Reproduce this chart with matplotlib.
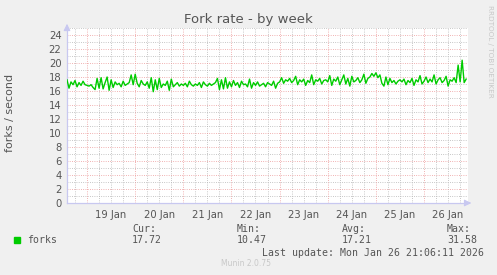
import matplotlib
matplotlib.use("Agg")
import matplotlib.pyplot as plt
import numpy as np

# ---- data (forks / second, hourly samples starting Jan 18 ~14:00) ----
start_day = 18.585
step_days = 1.0 / 24.0
seg_jan18 = [17.6, 16.4, 17.3, 16.9, 17.5, 16.6, 17.2, 16.8, 17.4, 16.9]
seg_jan19 = [16.8, 16.7, 16.9, 16.5, 16.2, 17.8, 16.4, 17.9, 16.3, 17.2, 18.0, 16.1,
             17.6, 16.5, 17.3, 16.9, 17.1, 16.6, 17.4, 16.8, 17.0, 17.2, 18.3, 16.9]
seg_jan20 = [18.4, 17.1, 16.6, 17.5, 17.0, 16.8, 17.3, 16.4, 17.9, 15.9, 17.6, 16.2,
             17.8, 16.5, 17.0, 16.8, 17.4, 16.1, 17.7, 16.6, 16.9, 17.2, 16.7, 17.0]
seg_jan21 = [16.8, 17.1, 16.6, 17.4, 16.9, 16.7, 17.0, 16.8, 17.2, 16.5, 17.3, 16.9,
             16.7, 17.1, 16.8, 17.0, 17.2, 17.8, 16.2, 17.6, 16.3, 17.9, 16.4, 17.3]
seg_jan22 = [16.6, 17.5, 16.8, 17.2, 16.5, 17.4, 16.9, 17.0, 16.6, 17.7, 16.4, 17.2,
             16.8, 17.3, 16.7, 16.9, 17.1, 16.6, 17.2, 17.0, 16.8, 17.4, 16.4, 17.1]
seg_jan23 = [17.3, 17.9, 17.1, 17.6, 17.4, 17.8, 17.2, 17.5, 18.1, 16.9, 17.6, 17.3,
             17.7, 16.8, 17.5, 17.2, 18.3, 16.9, 17.6, 17.4, 17.8, 17.0, 17.5, 17.6]
seg_jan24 = [17.3, 18.2, 16.8, 17.7, 17.4, 18.0, 16.9, 17.6, 18.3, 17.0, 17.8, 16.7,
             18.1, 17.3, 17.5, 17.9, 17.2, 17.6, 18.4, 17.1, 17.8, 18.0, 18.5, 18.1]
seg_jan25 = [18.6, 17.9, 18.3, 17.1, 16.7, 18.0, 16.9, 17.8, 17.2, 17.5, 17.0, 17.4,
             17.6, 17.3, 17.7, 16.9, 17.5, 17.2, 17.8, 16.8, 17.6, 17.3, 18.2, 17.0]
seg_jan26 = [17.4, 18.0, 17.2, 17.7, 17.3, 18.3, 17.0, 17.6, 17.9, 17.2, 17.5, 18.1,
             16.7, 17.6, 17.4, 17.9, 17.2, 19.7, 17.3, 20.4, 17.2, 17.7]

forks = np.array(seg_jan18 + seg_jan19 + seg_jan20 + seg_jan21 + seg_jan22 +
                 seg_jan23 + seg_jan24 + seg_jan25 + seg_jan26)
days = start_day + step_days * np.arange(len(forks))

day_labels = ["19 Jan", "20 Jan", "21 Jan", "22 Jan", "23 Jan", "24 Jan", "25 Jan", "26 Jan"]
day_numbers = [19, 20, 21, 22, 23, 24, 25, 26]
y_ticks = [0, 2, 4, 6, 8, 10, 12, 14, 16, 18, 20, 22, 24]

legend_name = "forks"
stat_names = ["Cur:", "Min:", "Avg:", "Max:"]
stat_values = ["17.72", "10.47", "17.21", "31.58"]
last_update = "Last update: Mon Jan 26 21:06:11 2026"

# ---- figure ----
W, H = 497, 275
fig = plt.figure(figsize=(W / 100, H / 100), dpi=100)
fig.patch.set_facecolor("#F0F0F0")

ax = fig.add_axes([67 / W, 1 - 203 / H, (468 - 67) / W, (203 - 28) / H])
ax.set_facecolor("white")
ax.set_xlim(18.585, 26.915)
ax.set_ylim(0, 25)

txt = "#555555"
gray_grid = dict(color="#B4B4B4", linewidth=0.6, linestyle=(0, (1, 1.7)))
red_grid = dict(color="#EC9898", linewidth=0.6, linestyle=(0, (1, 1.7)))

# minor grid: every 6 hours / every 1 unit
xq = np.arange(18.75, 26.92, 0.25)
for xv in xq:
    if abs(xv - round(xv)) > 1e-6:
        ax.axvline(xv, zorder=1, **gray_grid)
for yv in range(1, 26, 2):
    ax.axhline(yv, zorder=1, **gray_grid)
# major grid
for d in day_numbers:
    ax.axvline(d, zorder=1, **red_grid)
for yv in y_ticks[1:]:
    ax.axhline(yv, zorder=1, **red_grid)

ax.plot(days, forks, color="#00CC00", linewidth=1.0, zorder=3)

ax.set_xticks([d + 0.5 for d in day_numbers])
ax.set_xticklabels(day_labels)
ax.set_yticks(y_ticks)
ax.set_yticklabels([str(v) for v in y_ticks])
ax.tick_params(axis="both", length=0, labelsize=7.2, colors=txt, pad=4)
ax.tick_params(axis="x", pad=5)

for s in ["top", "right"]:
    ax.spines[s].set_visible(False)
for s in ["left", "bottom"]:
    ax.spines[s].set_color("#C8C8F0")
    ax.spines[s].set_linewidth(0.9)

# arrows on axes
ax.annotate("", xy=(0, 1.04), xytext=(0, 0.985), xycoords="axes fraction",
            arrowprops=dict(arrowstyle="-|>,head_width=0.2,head_length=0.4",
                            color="#C8C8F0", lw=0.8), annotation_clip=False)
ax.annotate("", xy=(1.015, 0), xytext=(0.995, 0), xycoords="axes fraction",
            arrowprops=dict(arrowstyle="-|>,head_width=0.2,head_length=0.4",
                            color="#C8C8F0", lw=0.8), annotation_clip=False)

# title and labels
fig.text(248 / W, 1 - 19 / H, "Fork rate - by week", ha="center", va="center",
         fontsize=9.5, color=txt)
fig.text(10 / W, 1 - 113 / H, "forks / second", ha="center", va="center",
         rotation=90, fontsize=8, color=txt)
fig.text(490 / W, 1 - 5 / H, "RRDTOOL / TOBI OETIKER", ha="center", va="top",
         rotation=270, fontsize=5.2, color="#C8C8C8")

# legend
mono = "DejaVu Sans Mono"
fs = 7.1
fig.patches.append(plt.Rectangle((14 / W, 1 - 243 / H), 6 / W, 6 / H,
                                 transform=fig.transFigure, color="#00CC00"))
fig.text(27 / W, 1 - 240 / H, legend_name, ha="left", va="center",
         fontsize=fs, family=mono, color=txt)
stat_x = [132, 237, 342, 447]
for sx, nm, val in zip(stat_x, stat_names, stat_values):
    fig.text(sx / W, 1 - 228.5 / H, nm, ha="left", va="center", fontsize=fs,
             family=mono, color=txt)
    fig.text(sx / W, 1 - 240 / H, val, ha="left", va="center", fontsize=fs,
             family=mono, color=txt)
fig.text(262 / W, 1 - 252.5 / H, last_update, ha="left", va="center",
         fontsize=fs, family=mono, color=txt)
fig.text(246 / W, 1 - 264 / H, "Munin 2.0.75", ha="center", va="center",
         fontsize=5.5, color="#C8C8C8")

fig.savefig("out.png", dpi=100, facecolor=fig.get_facecolor())
